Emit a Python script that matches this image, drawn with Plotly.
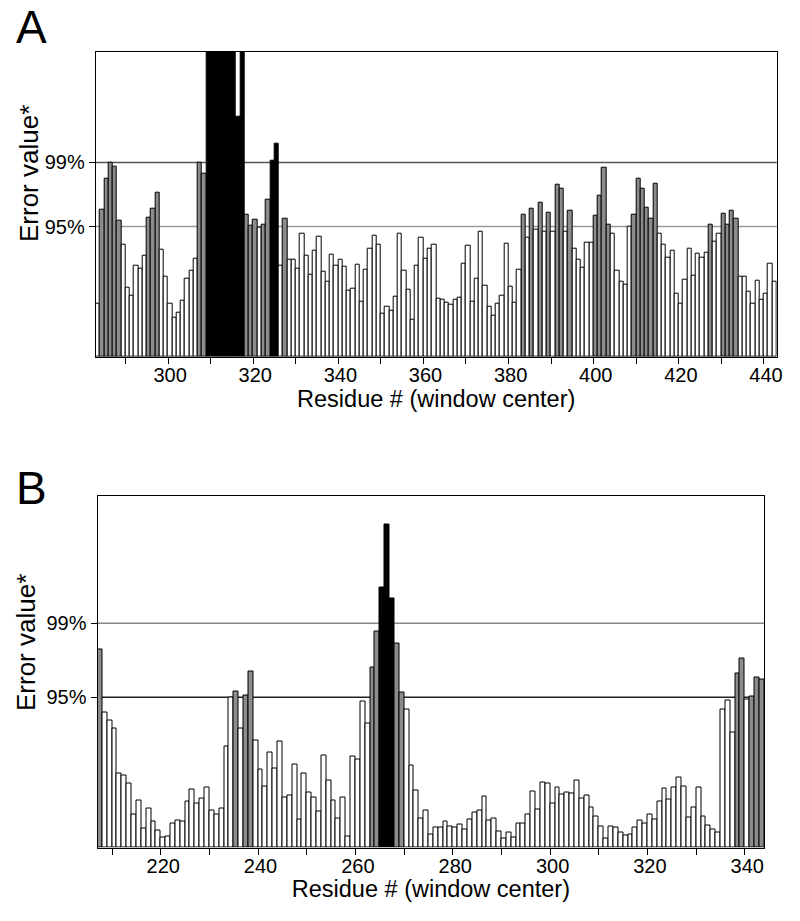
import plotly.graph_objects as go

# ---------------- data ----------------
# Error value in units where the 99% threshold = 100 and the 95% threshold = 67
threshold_95 = 67
threshold_99 = 100
threshold_labels = ["95%", "99%"]

residues_a = list(range(283, 443))
error_a = [
    27.5, 75.8, 91.4, 99.7, 97.8, 70.1, 57.9, 35.3, 31.3, 47.1,
    45.1, 51.9, 71.6, 76.0, 84.2, 55.2, 41.2, 27.2, 20.3, 22.7,
    28.6, 40.4, 44.2, 50.7, 99.7, 94.2, 180, 180, 180, 180,
    180, 180, 180, 123.4, 180, 73.2, 67.4, 70.3, 66.5, 68.2,
    80.6, 101.0, 109.8, 46.8, 71.1, 49.8, 49.8, 45.4, 63.2, 51.9,
    42.1, 54.6, 61.9, 43.8, 38.4, 52.4, 47.1, 49.7, 46.4, 33.9,
    34.9, 47.4, 28.4, 44.7, 55.4, 62.4, 57.7, 22.2, 25.5, 23.9,
    31.1, 63.4, 44.3, 34.4, 19.1, 46.6, 61.3, 50.7, 55.4, 57.9,
    30.1, 29.1, 28.0, 26.8, 29.6, 30.4, 48.1, 57.1, 28.2, 39.9,
    64.6, 36.3, 25.5, 21.1, 27.3, 31.6, 58.2, 35.8, 28.0, 44.8,
    72.9, 61.5, 76.0, 65.2, 79.2, 64.4, 74.2, 64.1, 88.4, 86.4,
    64.3, 75.3, 55.4, 49.8, 45.9, 58.6, 58.6, 72.4, 83.0, 97.1,
    67.7, 63.1, 44.2, 38.4, 37.3, 66.7, 73.0, 91.4, 86.4, 76.6,
    71.0, 88.9, 63.1, 57.9, 51.2, 54.8, 32.3, 27.5, 39.5, 55.7,
    41.8, 52.8, 51.2, 53.5, 67.7, 59.0, 63.4, 73.6, 67.9, 75.1,
    71.1, 41.2, 41.1, 33.5, 27.2, 38.9, 29.6, 32.3, 48.1, 38.4,
]

residues_b = list(range(207, 344))
error_b = [
    88.5, 60.1, 56.6, 52.9, 32.9, 32.2, 28.6, 14.9, 20.9, 8.3,
    17.5, 11.8, 7.7, 4.5, 5.1, 10.8, 12.1, 11.7, 20.4, 26.0,
    19.7, 21.8, 26.9, 16.6, 14.9, 17.3, 45.1, 66.7, 69.4, 53.0,
    67.7, 78.3, 47.9, 34.6, 27.3, 42.5, 35.1, 47.2, 22.2, 23.1,
    36.8, 12.6, 33.1, 24.6, 22.4, 16.0, 41.1, 29.7, 21.1, 13.0,
    22.1, 5.1, 40.5, 39.3, 65.3, 55.2, 80.4, 96.3, 115.9, 144.0,
    111.2, 91.2, 69.2, 61.6, 36.7, 25.6, 12.8, 16.4, 5.9, 9.0,
    9.0, 11.4, 9.5, 8.8, 10.2, 8.1, 12.6, 15.7, 16.7, 22.7,
    12.1, 13.0, 7.0, 3.9, 6.6, 4.5, 10.8, 10.8, 14.5, 24.8,
    17.0, 28.9, 28.6, 19.7, 26.9, 23.7, 24.6, 24.3, 30.1, 21.8,
    23.3, 17.9, 14.0, 9.3, 4.1, 9.3, 8.8, 6.8, 5.3, 6.0,
    9.0, 12.1, 10.5, 14.8, 12.6, 20.6, 26.2, 21.5, 26.9, 31.3,
    27.0, 13.5, 17.8, 26.7, 14.0, 9.9, 8.0, 6.9, 61.6, 65.5,
    51.5, 77.8, 84.2, 66.2, 67.4, 76.0, 75.0,
]

tickvals_a = [300, 320, 340, 360, 380, 400, 420, 440]
tickvals_b = [220, 240, 260, 280, 300, 320, 340]
ticklabels_a = [str(v) for v in tickvals_a]
ticklabels_b = [str(v) for v in tickvals_b]

x_title = "Residue # (window center)"
y_title = "Error value*"
panel_letters = ["A", "B"]

# ---------------- styling ----------------
W, H = 800, 921
PAGE_OFFSET = 8  # default page margin around the plot div
FONT = "Liberation Sans, Arial, Helvetica, sans-serif"
WHITE, GRAY, BLACK = "#ffffff", "#8c8c8c", "#000000"
Y_MAX = 157


def colour(v):
    if v >= threshold_99:
        return BLACK
    if v >= threshold_95:
        return GRAY
    return WHITE


def px_x(p):
    return (p - PAGE_OFFSET) / W


def px_y(p):
    return 1 - (p - PAGE_OFFSET) / H


fig = go.Figure()
fig.add_trace(go.Bar(
    x=residues_a, y=error_a, xaxis="x", yaxis="y",
    marker=dict(color=[colour(v) for v in error_a], line=dict(color="#000", width=1)),
    showlegend=False, hoverinfo="x+y",
))
fig.add_trace(go.Bar(
    x=residues_b, y=error_b, xaxis="x2", yaxis="y2",
    marker=dict(color=[colour(v) for v in error_b], line=dict(color="#000", width=1)),
    showlegend=False, hoverinfo="x+y",
))

tickfont = dict(family=FONT, size=20, color="#000")
xtitlefont = dict(family=FONT, size=23.5, color="#000")
ytitlefont = dict(family=FONT, size=26, color="#000")


def xaxis(domain, rng, vals, labels, minor_start, minor_end, anchor):
    return dict(
        domain=domain, range=rng, anchor=anchor, automargin=False,
        tickmode="array", tickvals=vals, ticktext=labels,
        ticks="", tickfont=tickfont,
        minor=dict(tickmode="array",
                   tickvals=[v - 0.5 for v in range(minor_start, minor_end + 1, 10)],
                   ticks="outside", ticklen=6, tickcolor="#000", tickwidth=1),
        showline=True, linecolor="#000", linewidth=1, mirror=True,
        showgrid=False, zeroline=False,
        title=dict(text=x_title, font=xtitlefont, standoff=4),
    )


def yaxis(domain, anchor):
    return dict(
        domain=domain, range=[0, Y_MAX], anchor=anchor, automargin=False,
        tickmode="array", tickvals=[threshold_95, threshold_99], ticktext=threshold_labels,
        ticks="outside", ticklen=6, tickcolor="#000", tickfont=tickfont,
        showline=True, linecolor="#000", linewidth=1, mirror=True,
        showgrid=False, zeroline=False,
    )


fig.update_layout(
    width=W, height=H, margin=dict(l=0, r=0, t=0, b=0, autoexpand=False),
    paper_bgcolor="#fff", plot_bgcolor="#fff",
    bargap=0, barmode="overlay",
    xaxis=xaxis([px_x(95.7), px_x(776.7)], [282.5, 442.5], tickvals_a, ticklabels_a, 290, 440, "y"),
    yaxis=yaxis([px_y(356.7), px_y(51.7)], "x"),
    xaxis2=xaxis([px_x(97.5), px_x(764.3)], [206.5, 343.5], tickvals_b, ticklabels_b, 210, 340, "y2"),
    yaxis2=yaxis([px_y(847.5), px_y(495.5)], "x2"),
)

# threshold lines (behind bars)
line_styles = [
    ("x", "y", "#9a9a9a", "#555555"),
    ("x2", "y2", "#222222", "#8a8a8a"),
]
for xr, yr, c95, c99 in line_styles:
    for val, col in ((threshold_95, c95), (threshold_99, c99)):
        fig.add_shape(type="line", xref=f"{xr} domain", yref=yr, x0=0, x1=1, y0=val, y1=val,
                      line=dict(color=col, width=1.5), layer="below")

# y-axis titles
for (tx, ty) in [(29, 174), (26, 643)]:
    fig.add_annotation(text=y_title, xref="paper", yref="paper", x=px_x(tx), y=px_y(ty),
                       xanchor="center", yanchor="middle", textangle=-90, showarrow=False,
                       font=ytitlefont)

# panel letters
for letter, (lx, ly) in zip(panel_letters, [(14, 27), (14, 488)]):
    fig.add_annotation(text=letter, xref="paper", yref="paper", x=px_x(lx), y=px_y(ly),
                       xanchor="left", yanchor="middle", showarrow=False,
                       font=dict(family=FONT, size=46, color="#000"))

fig.write_html("out.html")
